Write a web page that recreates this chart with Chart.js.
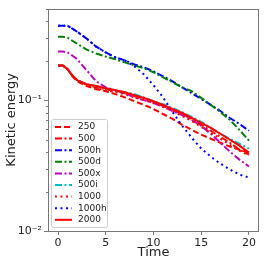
<!DOCTYPE html>
<html>
<head>
<meta charset="utf-8">
<script src="https://cdn.jsdelivr.net/npm/chart.js@4"></script>
<style>
  html, body { margin: 0; padding: 0; background: #fff; }
  #wrap { width: 266px; height: 266px; }
</style>
</head>
<body>
<div id="wrap"><canvas id="chart" width="266" height="266"></canvas></div>
<script>
// Datos
const time = [0, 0.5, 1, 1.5, 2, 3, 4, 5, 6, 7, 8, 9, 10, 11, 12, 13, 14, 15, 16, 17, 18, 19, 20];

const k250  = [0.184, 0.184, 0.172, 0.152, 0.139, 0.128, 0.121, 0.117, 0.111, 0.105, 0.098, 0.092, 0.0855, 0.0783, 0.0718, 0.0647, 0.0593, 0.0544, 0.0507, 0.0472, 0.0441, 0.0418, 0.0397];
const k500  = [0.184, 0.184, 0.172, 0.154, 0.142, 0.132, 0.125, 0.121, 0.117, 0.113, 0.107, 0.102, 0.097, 0.090, 0.084, 0.0783, 0.0718, 0.0647, 0.0583, 0.0525, 0.0472, 0.0418, 0.0383];
const k500h = [0.370, 0.370, 0.370, 0.351, 0.333, 0.295, 0.256, 0.231, 0.212, 0.201, 0.187, 0.178, 0.166, 0.152, 0.139, 0.125, 0.113, 0.102, 0.092, 0.0826, 0.073, 0.0658, 0.0583];
const k500d = [0.305, 0.305, 0.300, 0.284, 0.270, 0.243, 0.227, 0.215, 0.205, 0.194, 0.184, 0.175, 0.163, 0.149, 0.137, 0.125, 0.117, 0.104, 0.092, 0.081, 0.0705, 0.0593, 0.0490];
const k500x = [0.235, 0.235, 0.231, 0.219, 0.205, 0.169, 0.139, 0.125, 0.119, 0.113, 0.105, 0.100, 0.095, 0.089, 0.0826, 0.077, 0.0705, 0.0636, 0.0553, 0.0472, 0.0404, 0.0351, 0.0311];
const k500i = [0.184, 0.184, 0.172, 0.154, 0.142, 0.132, 0.128, 0.123, 0.119, 0.115, 0.111, 0.105, 0.098, 0.093, 0.087, 0.081, 0.0743, 0.0681, 0.0614, 0.0553, 0.0507, 0.0464, 0.0426];
const k1000 = [0.184, 0.184, 0.172, 0.154, 0.142, 0.130, 0.123, 0.119, 0.115, 0.111, 0.105, 0.100, 0.095, 0.089, 0.0826, 0.0757, 0.0693, 0.0624, 0.0562, 0.0507, 0.0456, 0.0411, 0.0377];
const k1000h = [0.370, 0.370, 0.370, 0.351, 0.333, 0.295, 0.256, 0.231, 0.212, 0.201, 0.181, 0.157, 0.130, 0.105, 0.081, 0.0636, 0.0516, 0.0426, 0.0370, 0.0327, 0.0295, 0.0270, 0.0256];
const k2000 = [0.184, 0.184, 0.172, 0.154, 0.142, 0.132, 0.128, 0.123, 0.119, 0.115, 0.109, 0.104, 0.098, 0.092, 0.0855, 0.0797, 0.073, 0.067, 0.0614, 0.0553, 0.0498, 0.0449, 0.0397];

const xTicks = [0, 5, 10, 15, 20];
const yTicks = [0.01, 0.1];
const yTickLabels = ['10\u207B\u00B2', '10\u207B\u00B9'];

// Estilos tipo matplotlib
const DASHED = [6, 3];
const DASHDOT = [7, 2.5, 2, 2.5];
const DOTTED = [2, 3.5];

const series = [
    { label: '250',   data: k250,   color: '#ff0000', dash: DASHED },
    { label: '500',   data: k500,   color: '#ff0000', dash: DASHDOT },
    { label: '500h',  data: k500h,  color: '#0000ff', dash: DASHDOT },
    { label: '500d',  data: k500d,  color: '#008000', dash: DASHDOT },
    { label: '500x',  data: k500x,  color: '#bf00bf', dash: DASHDOT },
    { label: '500i',  data: k500i,  color: '#00bfbf', dash: DASHDOT },
    { label: '1000',  data: k1000,  color: '#ff0000', dash: DOTTED },
    { label: '1000h', data: k1000h, color: '#0000ff', dash: DOTTED },
    { label: '2000',  data: k2000,  color: '#ff0000', dash: [] }
];

const FONT = '"DejaVu Sans", sans-serif';
const SPINE = '#777';

// Marco completo + ticks menores del eje log
const framePlugin = {
    id: 'frame',
    afterDatasetsDraw(chart) {
        const { ctx, chartArea: a } = chart;
        const y = chart.scales.y;
        ctx.save();
        ctx.strokeStyle = SPINE;
        ctx.lineWidth = 1;
        ctx.strokeRect(Math.round(a.left) + 0.5, Math.round(a.top) + 0.5,
                       Math.round(a.right - a.left) - 1, Math.round(a.bottom - a.top));
        ctx.beginPath();
        for (let d = 0.01; d < 1; d *= 10) {
            for (let m = 2; m <= 9; m++) {
                const v = m * d;
                if (v < y.min || v > y.max) continue;
                const py = Math.round(y.getPixelForValue(v)) + 0.5;
                ctx.moveTo(a.left, py);
                ctx.lineTo(a.left - 2, py);
            }
        }
        ctx.stroke();
        ctx.restore();
    }
};

// Leyenda dentro del área del gráfico (abajo a la izquierda)
const insideLegend = {
    id: 'insideLegend',
    afterDraw(chart) {
        const { ctx, chartArea } = chart;
        const x0 = chartArea.left + 3;
        const w = 56, h = 108, rowH = 11.6;
        const y0 = chartArea.bottom - 4 - h;
        ctx.save();
        ctx.fillStyle = 'rgba(255,255,255,0.8)';
        ctx.strokeStyle = '#cccccc';
        ctx.lineWidth = 1;
        ctx.beginPath();
        if (ctx.roundRect) ctx.roundRect(x0 + 0.5, y0 + 0.5, w, h, 2);
        else ctx.rect(x0 + 0.5, y0 + 0.5, w, h);
        ctx.fill();
        ctx.stroke();
        chart.data.datasets.forEach((ds, i) => {
            const ly = y0 + 8 + i * rowH;
            ctx.strokeStyle = ds.borderColor;
            ctx.lineWidth = ds.borderWidth;
            ctx.setLineDash(ds.borderDash || []);
            ctx.beginPath();
            ctx.moveTo(x0 + 4, ly);
            ctx.lineTo(x0 + 21, ly);
            ctx.stroke();
            ctx.setLineDash([]);
            ctx.fillStyle = '#222';
            ctx.font = '9px ' + FONT;
            ctx.textBaseline = 'middle';
            ctx.fillText(ds.label, x0 + 27, ly);
        });
        ctx.restore();
    }
};

const ctx = document.getElementById('chart').getContext('2d');
new Chart(ctx, {
    type: 'line',
    data: {
        datasets: series.map((s, i) => ({
            label: s.label,
            data: s.data.map((v, j) => ({ x: time[j], y: v })),
            borderColor: s.color,
            backgroundColor: s.color,
            borderWidth: 2,
            borderDash: s.dash,
            pointRadius: 0,
            tension: 0,
            fill: false,
            order: series.length - i
        }))
    },
    options: {
        responsive: false,
        devicePixelRatio: 1,
        animation: false,
        layout: { padding: { top: 7, right: 7, left: 0, bottom: 0 } },
        plugins: {
            legend: { display: false },
            tooltip: { enabled: false }
        },
        scales: {
            x: {
                type: 'linear',
                min: -1.05,
                max: 21.05,
                afterBuildTicks: scale => { scale.ticks = xTicks.map(v => ({ value: v })); },
                afterFit: scale => { scale.height = 35; },
                border: { display: false },
                grid: { drawOnChartArea: false, tickLength: 4, tickColor: SPINE },
                ticks: { color: '#222', font: { family: FONT, size: 11 }, padding: 2, maxRotation: 0 },
                title: { display: true, text: 'Time', color: '#222', font: { family: FONT, size: 13 }, padding: { top: 0, bottom: 6 } }
            },
            y: {
                type: 'logarithmic',
                min: 0.01,
                max: 0.5,
                afterBuildTicks: scale => { scale.ticks = yTicks.map(v => ({ value: v })); },
                afterFit: scale => { scale.width = 48; },
                border: { display: false },
                grid: { drawOnChartArea: false, tickLength: 4, tickColor: SPINE },
                ticks: {
                    color: '#222',
                    font: { family: FONT, size: 11 },
                    padding: 2,
                    callback: (value) => {
                        const k = yTicks.findIndex(t => Math.abs(t - value) < 1e-9);
                        return k >= 0 ? yTickLabels[k] : '';
                    }
                },
                title: { display: true, text: 'Kinetic energy', color: '#222', font: { family: FONT, size: 13 }, padding: { top: 4, bottom: 0 } }
            }
        }
    },
    plugins: [framePlugin, insideLegend]
});
</script>
</body>
</html>
